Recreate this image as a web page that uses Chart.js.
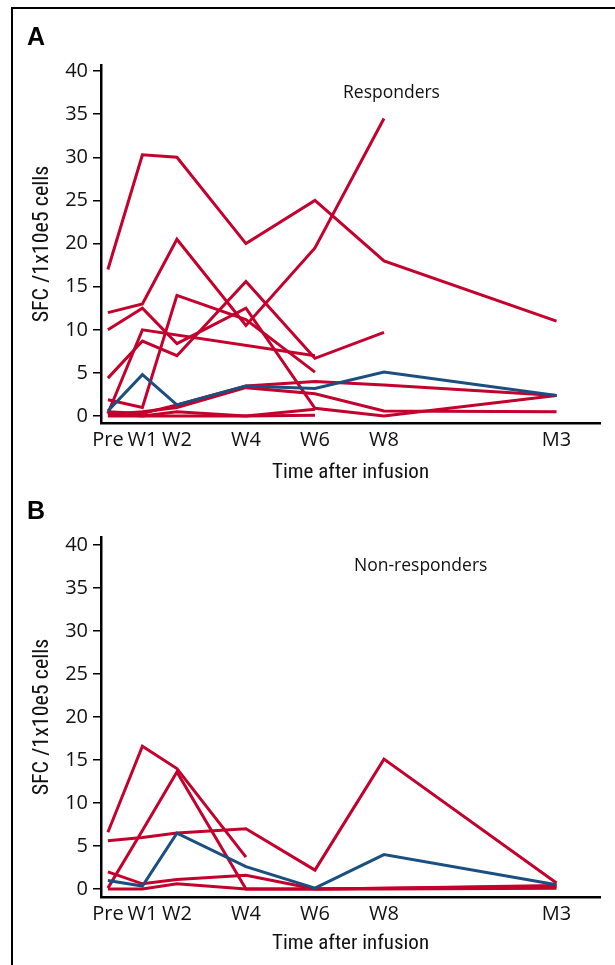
<!DOCTYPE html>
<html lang="en">
<head>
  <meta charset="UTF-8" />
  <title>SFC after infusion</title>
  <script src="https://cdn.jsdelivr.net/npm/chart.js"></script>
  <style>
    html, body { margin: 0; padding: 0; background: #fff; }
    body { width: 615px; height: 965px; position: relative; overflow: hidden; font-family: 'Open Sans', sans-serif; }
    .frame { position: absolute; left: 11px; top: 7px; width: 700px; height: 1000px; border: 2.5px solid #000; }
    .panel { position: absolute; left: 0; width: 615px; height: 490px; }
    .letter { position: absolute; font: bold 25px 'Liberation Sans', Arial, sans-serif; color: #000; }
    .note { position: absolute; font-size: 17.5px; color: #111; white-space: nowrap; }
  </style>
</head>
<body>
  <div class="frame"></div>
  <div class="panel" style="top:0"><canvas id="chartA" width="615" height="490"></canvas></div>
  <div class="panel" style="top:475px"><canvas id="chartB" width="615" height="490"></canvas></div>
  <div class="letter" style="left:27px;top:22px">A</div>
  <div class="letter" style="left:27px;top:496px">B</div>
  <div class="note" style="left:343px;top:79px">Responders</div>
  <div class="note" style="left:354px;top:552px">Non-responders</div>

  <script>
    // time points in weeks after infusion (M3 ~ week 13)
    const timeWeeks = [0, 1, 2, 4, 6, 8, 13];
    const timeLabels = ['Pre', 'W1', 'W2', 'W4', 'W6', 'W8', 'M3'];
    const yTicks = [0, 5, 10, 15, 20, 25, 30, 35, 40];

    // A: responders (null = not measured)
    const respBlue = [0.6, 4.8, 1.3, 3.5, 3.2, 5.1, 2.4];
    const resp1 = [17, 30.3, 30, 20, 25, 18, 11];
    const resp2 = [12, 13, 20.5, 10.5, 19.5, 34.5, null];
    const resp3 = [1.9, 1.0, 14, 11.2, 5.1, null, null];
    const resp4 = [4.4, 8.7, 7, 15.6, 6.7, 9.7, null];
    const resp5 = [10, 12.5, 8.4, 12.5, 0.9, 0, 2.4];
    const resp6 = [0.3, 10, null, null, 7, null, null];
    const resp7 = [0.5, 0.3, 1.3, 3.5, 4.0, 3.6, 2.4];
    const resp8 = [0.2, 0.5, 1.0, 3.3, 2.6, 0.6, 0.5];
    const resp9 = [0.3, 0, 0.5, 0, 0.8, null, null];
    const resp10 = [0, 0, 0, 0, 0.1, null, null];

    // B: non-responders
    const nonBlue = [1.0, 0.35, 6.5, 2.6, 0.1, 4.0, 0.5];
    const non1 = [6.6, 16.6, 14, 3.7, null, null, null];
    const non2 = [0.1, 6.8, 13.6, 0, 0, 0.1, 0.4];
    const non3 = [5.6, 6.0, 6.5, 7.0, 2.2, 15.1, 0.7];
    const non4 = [2.0, 0.6, 1.1, 1.6, 0, 0.1, 0.3];
    const non5 = [0, 0, 0.6, 0, 0, 0, 0.1];

    const RED = 'rgb(196, 0, 45)';
    const BLUE = 'rgb(27, 79, 128)';

    function toPoints(values) {
      return values
        .map((v, i) => ({ x: timeWeeks[i], y: v }))
        .filter(p => p.y !== null);
    }

    function makeChart(canvasId, blue, reds, yRange, padTop, xHeight, xTitlePad) {
      const datasets = [{ data: toPoints(blue), borderColor: BLUE }]
        .concat(reds.map(r => ({ data: toPoints(r), borderColor: RED })));
      datasets.forEach(d => {
        d.borderWidth = 3;
        d.pointRadius = 0;
        d.tension = 0;
        d.fill = false;
      });

      return new Chart(document.getElementById(canvasId), {
        type: 'line',
        data: { datasets },
        options: {
          responsive: false,
          animation: false,
          layout: { padding: { left: 0, right: 15, top: padTop, bottom: 0 } },
          plugins: { legend: { display: false }, tooltip: { enabled: false } },
          scales: {
            x: {
              type: 'linear',
              min: -0.2,
              max: 14.26,
              afterBuildTicks: s => { s.ticks = timeWeeks.map(v => ({ value: v })); },
              afterFit: s => { s.height = xHeight; },
              grid: { display: false, drawTicks: false },
              border: { display: true, color: '#000', width: 2.5 },
              ticks: {
                autoSkip: false,
                maxRotation: 0,
                padding: 5,
                color: '#111',
                font: { family: 'Open Sans', size: 20 },
                callback: (v, i) => timeLabels[i]
              },
              title: {
                display: true,
                text: 'Time after infusion',
                color: '#111',
                font: { family: "'Liberation Sans Narrow', 'Roboto Condensed', sans-serif", size: 21 },
                padding: { top: 0, bottom: xTitlePad }
              }
            },
            y: {
              min: yRange[0],
              max: yRange[1],
              afterBuildTicks: s => { s.ticks = yTicks.map(v => ({ value: v })); },
              afterFit: s => { s.width = 101; },
              grid: { drawOnChartArea: false, drawTicks: true, tickLength: 8, color: '#000', lineWidth: 1.5 },
              border: { display: true, color: '#000', width: 2.5 },
              ticks: {
                padding: 5,
                color: '#111',
                font: { family: 'Open Sans', size: 20 }
              },
              title: {
                display: true,
                text: 'SFC /1x10e5 cells',
                color: '#111',
                font: { family: "'Liberation Sans Narrow', 'Roboto Condensed', sans-serif", size: 22 },
                padding: { top: 29, bottom: 0 }
              }
            }
          }
        }
      });
    }

    makeChart('chartA', respBlue,
      [resp1, resp2, resp3, resp4, resp5, resp6, resp7, resp8, resp9, resp10],
      [-0.8, 40.7], 65, 67, 5);
    makeChart('chartB', nonBlue,
      [non1, non2, non3, non4, non5],
      [-0.93, 40.93], 62, 68, 9);
  </script>
</body>
</html>
